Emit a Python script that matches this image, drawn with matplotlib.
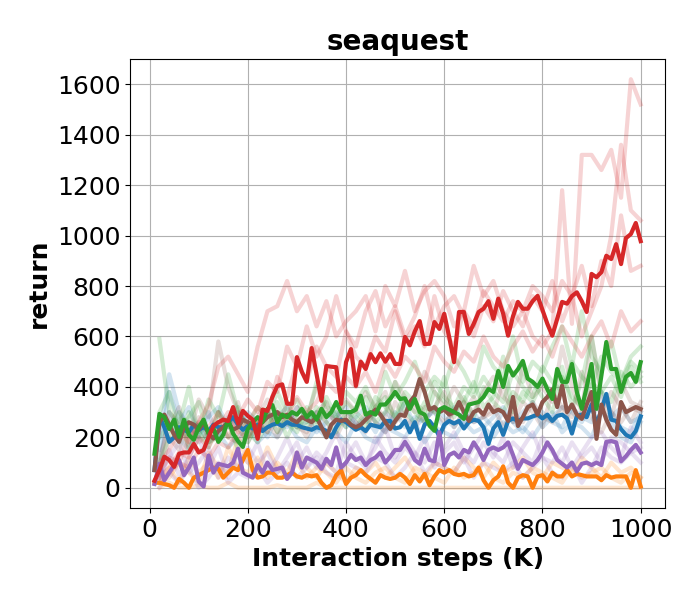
import numpy as np
import matplotlib
matplotlib.use("Agg")
import matplotlib.pyplot as plt

# x grid (K steps): mean curves every 10K, individual seeds every 20K
steps = np.arange(10, 1001, 10)
seed_steps = np.arange(20, 1001, 20)

# --- mean curves ---
red = [28, 70, 123, 110, 83, 135, 140, 140, 174, 140,
       150, 200, 246, 260, 270, 265, 320, 255, 305, 285,
       270, 194, 310, 305, 360, 404, 410, 333, 333, 518,
       460, 420, 554, 450, 345, 483, 480, 478, 333, 498,
       550, 404, 500, 471, 530, 498, 533, 500, 530, 491,
       491, 598, 565, 620, 661, 570, 571, 657, 630, 690,
       598, 498, 697, 697, 610, 650, 697, 710, 740, 670,
       750, 690, 603, 680, 737, 710, 710, 740, 761, 705,
       650, 603, 670, 737, 730, 760, 775, 740, 697, 848,
       835, 855, 920, 907, 966, 887, 990, 1006, 1050, 978]
green = [135, 293, 280, 233, 270, 202, 270, 210, 190, 240,
         270, 215, 235, 182, 210, 270, 215, 185, 162, 233,
         260, 280, 260, 313, 328, 260, 290, 280, 300, 290,
         313, 280, 300, 270, 313, 280, 300, 340, 300, 300,
         300, 310, 365, 290, 300, 290, 330, 330, 352, 380,
         352, 355, 313, 352, 300, 290, 246, 226, 310, 320,
         310, 300, 290, 273, 330, 335, 340, 360, 392, 380,
         463, 400, 483, 445, 470, 503, 433, 420, 400, 433,
         390, 352, 471, 420, 420, 491, 380, 313, 400, 491,
         313, 445, 578, 471, 471, 380, 440, 455, 420, 498]
brown = [70, 260, 290, 250, 210, 182, 240, 260, 250, 230,
         260, 215, 195, 225, 240, 260, 230, 240, 270, 260,
         250, 240, 260, 280, 290, 300, 280, 290, 270, 260,
         280, 270, 260, 280, 240, 200, 250, 270, 265, 270,
         250, 240, 250, 270, 290, 310, 290, 260, 233, 265,
         290, 285, 340, 365, 431, 380, 310, 320, 300, 310,
         290, 300, 340, 300, 265, 300, 310, 290, 330, 300,
         310, 300, 265, 360, 245, 280, 320, 330, 290, 340,
         360, 390, 320, 405, 300, 330, 290, 273, 330, 380,
         194, 330, 270, 230, 210, 340, 300, 310, 320, 312]
blue = [70, 283, 240, 182, 200, 240, 230, 220, 250, 230,
        240, 225, 250, 240, 240, 260, 280, 250, 230, 245,
        235, 250, 225, 240, 250, 255, 245, 260, 250, 250,
        240, 235, 230, 240, 235, 225, 200, 240, 270, 260,
        245, 230, 240, 225, 250, 245, 240, 265, 265, 235,
        240, 265, 220, 260, 194, 250, 265, 240, 205, 250,
        265, 255, 265, 235, 260, 270, 265, 240, 174, 235,
        260, 210, 265, 275, 265, 275, 275, 283, 290, 275,
        290, 265, 285, 290, 275, 215, 285, 290, 280, 330,
        250, 310, 372, 270, 265, 232, 210, 200, 225, 283]
purple = [15, 95, 30, 60, 90, 110, 50, 80, 120, 25,
          5, 128, 60, 95, 90, 85, 100, 155, 60, 50,
          40, 90, 60, 100, 70, 75, 80, 35, 60, 140,
          80, 120, 110, 100, 75, 115, 90, 160, 80, 100,
          130, 110, 120, 90, 110, 120, 140, 100, 123, 150,
          150, 182, 150, 110, 95, 155, 110, 105, 220, 90,
          130, 140, 120, 150, 140, 180, 150, 110, 150, 160,
          150, 160, 180, 130, 75, 110, 100, 90, 110, 140,
          180, 150, 110, 95, 80, 100, 65, 95, 100, 90,
          100, 90, 182, 185, 180, 105, 125, 150, 170, 140]
orange = [20, 20, 15, 10, 0, 35, 20, 0, 40, 50,
          60, 70, 80, 75, 40, 60, 80, 70, 110, 150,
          70, 40, 45, 60, 60, 40, 40, 50, 60, 45,
          40, 50, 45, 50, 20, 0, 10, 50, 70, 15,
          40, 50, 70, 50, 35, 20, 50, 40, 35, 40,
          55, 40, 15, 50, 25, 55, 10, 45, 70, 60,
          70, 55, 50, 55, 45, 50, 80, 30, 0, 30,
          45, 85, 20, 0, 40, 50, 45, 0, 45, 50,
          25, 60, 45, 45, 70, 45, 55, 50, 45, 45,
          45, 30, 50, 40, 45, 45, 45, 0, 70, 5]

# --- individual seeds (faint) ---
red_seeds = [
    [100, 150, 220, 180, 260, 330, 480, 520, 450, 380, 560, 700, 720, 820, 700, 760, 640, 740, 600, 660,
     700, 760, 620, 800, 720, 860, 700, 780, 820, 760, 640, 700, 880, 760, 820, 700, 640, 700, 600, 560,
     620, 1180, 650, 1320, 1320, 1260, 1340, 1150, 1620, 1520],
    [60, 120, 100, 200, 260, 240, 300, 200, 280, 350, 300, 420, 380, 560, 480, 640, 520, 600, 760, 620,
     560, 700, 780, 640, 720, 600, 680, 800, 640, 720, 760, 680, 600, 720, 660, 780, 700, 640, 760, 700,
     820, 660, 760, 600, 700, 800, 1000, 1360, 1100, 1060],
    [40, 80, 140, 120, 200, 160, 240, 300, 220, 260, 320, 280, 440, 360, 500, 420, 560, 480, 440, 620,
     520, 480, 600, 540, 700, 580, 640, 560, 760, 620, 560, 700, 640, 780, 720, 660, 740, 700, 800, 760,
     700, 820, 760, 880, 720, 900, 800, 1080, 860, 880],
    [20, 60, 100, 80, 150, 120, 180, 160, 220, 200, 260, 220, 300, 280, 360, 300, 340, 420, 380, 440,
     400, 460, 380, 500, 440, 520, 480, 420, 560, 500, 460, 540, 500, 600, 520, 480, 560, 620, 540, 600,
     520, 640, 580, 520, 600, 660, 560, 700, 620, 660],
]
green_seeds = [
    [590, 300, 250, 400, 200, 350, 280, 450, 300, 250, 320, 280, 380, 300, 350, 260, 420, 320, 300, 380,
     340, 400, 300, 460, 360, 420, 500, 380, 440, 400, 520, 460, 380, 560, 480, 440, 600, 420, 500, 460,
     560, 640, 480, 700, 520, 460, 580, 420, 520, 560],
    [200, 250, 180, 300, 220, 160, 260, 200, 240, 180, 250, 300, 220, 280, 240, 320, 260, 300, 280, 340,
     300, 260, 360, 320, 280, 380, 340, 300, 420, 360, 320, 400, 360, 440, 380, 340, 460, 400, 360, 480,
     420, 380, 500, 440, 400, 520, 460, 420, 500, 460],
    [100, 200, 300, 150, 250, 180, 200, 260, 150, 220, 180, 260, 300, 200, 280, 240, 320, 260, 220, 300,
     280, 240, 320, 360, 280, 340, 300, 260, 380, 340, 300, 360, 280, 400, 340, 300, 380, 340, 420, 360,
     300, 440, 360, 320, 420, 380, 340, 460, 400, 440],
    [300, 380, 220, 280, 340, 200, 300, 240, 320, 200, 260, 220, 340, 260, 220, 300, 240, 360, 280, 240,
     320, 360, 260, 300, 420, 300, 260, 340, 300, 440, 280, 340, 420, 320, 360, 520, 300, 380, 340, 420,
     380, 480, 320, 420, 600, 380, 440, 360, 480, 420],
]
brown_seeds = [
    [80, 300, 250, 200, 350, 280, 580, 400, 300, 250, 280, 350, 300, 250, 320, 280, 400, 300, 260, 350,
     300, 380, 320, 280, 420, 360, 300, 460, 380, 320, 400, 340, 300, 380, 440, 360, 320, 480, 360, 400,
     340, 560, 400, 300, 600, 360, 280, 420, 340, 320],
    [50, 200, 150, 250, 180, 220, 260, 200, 180, 240, 220, 260, 200, 280, 240, 220, 300, 260, 200, 280,
     240, 300, 260, 220, 340, 280, 240, 320, 300, 260, 300, 340, 260, 280, 320, 240, 300, 260, 340, 280,
     260, 320, 240, 300, 280, 220, 300, 260, 320, 300],
    [120, 240, 320, 160, 280, 200, 300, 240, 340, 180, 260, 300, 220, 340, 260, 200, 300, 340, 240, 300,
     260, 220, 320, 380, 260, 300, 340, 260, 320, 380, 240, 300, 360, 280, 300, 420, 260, 340, 300, 240,
     380, 320, 280, 460, 340, 300, 380, 320, 260, 340],
]
blue_seeds = [
    [200, 450, 300, 250, 200, 280, 320, 240, 300, 260, 220, 300, 260, 240, 320, 280, 220, 260, 300, 240,
     280, 320, 260, 220, 300, 240, 280, 260, 320, 280, 240, 300, 260, 280, 240, 300, 260, 220, 280, 300,
     260, 240, 320, 280, 260, 380, 300, 240, 220, 300],
    [100, 300, 200, 150, 250, 180, 220, 160, 200, 240, 180, 220, 200, 260, 200, 180, 240, 200, 220, 180,
     260, 200, 180, 240, 220, 200, 260, 180, 240, 220, 200, 260, 220, 240, 200, 260, 220, 240, 200, 260,
     300, 220, 260, 240, 200, 300, 260, 200, 180, 260],
    [150, 380, 260, 320, 220, 300, 180, 280, 240, 300, 260, 200, 280, 320, 240, 260, 300, 220, 280, 320,
     240, 280, 220, 300, 260, 340, 240, 280, 300, 240, 320, 260, 300, 240, 280, 320, 260, 300, 340, 240,
     280, 320, 300, 260, 340, 300, 280, 320, 260, 280],
]
purple_seeds = [
    [20, 150, 50, 120, 200, 80, 160, 40, 140, 100, 180, 60, 120, 200, 100, 160, 80, 140, 220, 120,
     180, 100, 160, 240, 120, 200, 140, 100, 180, 160, 220, 140, 100, 180, 120, 200, 80, 160, 220, 120,
     100, 160, 80, 140, 200, 220, 160, 120, 240, 180],
    [0, 60, 20, 80, 0, 40, 100, 20, 60, 40, 80, 20, 60, 100, 40, 80, 120, 60, 40, 100,
     80, 60, 120, 100, 40, 80, 140, 60, 100, 80, 60, 120, 40, 100, 80, 60, 100, 40, 80, 120,
     60, 40, 100, 20, 80, 160, 120, 100, 140, 100],
    [40, 120, 180, 60, 100, 160, 40, 120, 80, 160, 100, 140, 60, 120, 180, 80, 140, 100, 60, 180,
     120, 80, 200, 140, 100, 160, 120, 200, 80, 140, 180, 100, 160, 220, 140, 100, 180, 140, 100, 200,
     140, 100, 180, 120, 160, 100, 200, 180, 140, 160],
]
orange_seeds = [
    [0, 20, 0, 0, 10, 0, 0, 20, 0, 0, 0, 0, 10, 0, 0, 0, 20, 0, 0, 0,
     0, 0, 0, 0, 0, 0, 0, 0, 0, 0, 0, 0, 0, 0, 0, 0, 0, 0, 0, 0,
     0, 0, 0, 0, 0, 0, 0, 0, 0, 0],
    [40, 80, 20, 120, 60, 100, 40, 160, 80, 60, 120, 40, 100, 60, 140, 80, 40, 100, 60, 20,
     80, 60, 100, 40, 80, 120, 60, 40, 100, 80, 60, 120, 80, 40, 100, 60, 80, 120, 60, 40,
     100, 80, 60, 120, 80, 40, 100, 60, 80, 40],
    [20, 40, 100, 60, 20, 140, 80, 60, 200, 100, 60, 160, 80, 40, 100, 40, 80, 60, 20, 80,
     40, 20, 60, 80, 40, 20, 80, 60, 40, 20, 80, 40, 60, 100, 40, 20, 60, 40, 80, 60,
     40, 20, 80, 40, 60, 80, 40, 20, 60, 40],
]

C_BLUE, C_ORANGE, C_GREEN = "#1f77b4", "#ff7f0e", "#2ca02c"
C_RED, C_PURPLE, C_BROWN = "#d62728", "#9467bd", "#8c564b"

fig = plt.figure(figsize=(7, 6), dpi=100)
ax = fig.add_axes([0.186, 0.153, 0.764, 0.749])

faint = [(blue_seeds, C_BLUE), (orange_seeds, C_ORANGE), (purple_seeds, C_PURPLE),
         (brown_seeds, C_BROWN), (green_seeds, C_GREEN), (red_seeds, C_RED)]
for seeds, c in faint:
    for s in seeds:
        ax.plot(seed_steps, s, color=c, alpha=0.2, lw=3)

means = [(blue, C_BLUE), (orange, C_ORANGE), (purple, C_PURPLE),
         (brown, C_BROWN), (green, C_GREEN), (red, C_RED)]
for m, c in means:
    ax.plot(steps, m, color=c, lw=3)

ax.grid(True)
ax.set_yticks([0, 200, 400, 600, 800, 1000, 1200, 1400, 1600])
ax.tick_params(labelsize=18)
ax.set_title("seaquest", fontsize=20, fontweight="bold")
ax.set_xlabel("Interaction steps (K)", fontsize=18, fontweight="bold")
ax.set_ylabel("return", fontsize=18, fontweight="bold")

fig.savefig("out.png", dpi=100)
